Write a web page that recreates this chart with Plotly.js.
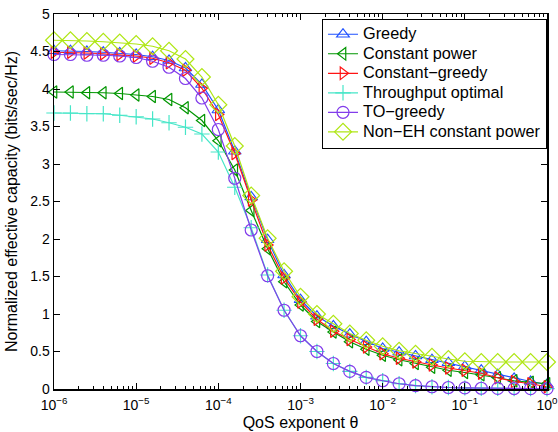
<!DOCTYPE html>
<html>
<head>
<meta charset="utf-8">
<script src="https://cdn.plot.ly/plotly-3.0.1.min.js"></script>
<style>html,body{margin:0;padding:0;background:#fff;}#chart{width:558px;height:432px;}</style>
</head>
<body>
<div id="chart"></div>
<script>
// QoS exponent theta: 31 points, 5 per decade from 1e-6 to 1e0
var logTheta = [-6,-5.8,-5.6,-5.4,-5.2,-5,-4.8,-4.6,-4.4,-4.2,-4,-3.8,-3.6,-3.4,-3.2,-3,-2.8,-2.6,-2.4,-2.2,-2,-1.8,-1.6,-1.4,-1.2,-1,-0.8,-0.6,-0.4,-0.2,0];
var theta = logTheta.map(function(v){ return Math.pow(10, v); });

var greedy = [4.51,4.51,4.50,4.49,4.48,4.46,4.43,4.38,4.28,4.06,3.72,3.17,2.56,1.99,1.52,1.19,0.97,0.84,0.73,0.63,0.54,0.49,0.44,0.39,0.35,0.30,0.25,0.19,0.14,0.10,0.06];
var constantPower = [3.96,3.96,3.95,3.95,3.94,3.92,3.90,3.86,3.75,3.58,3.31,2.92,2.38,1.87,1.43,1.12,0.90,0.76,0.63,0.53,0.45,0.39,0.34,0.29,0.25,0.22,0.19,0.15,0.11,0.09,0.07];
var constantGreedy = [4.49,4.49,4.48,4.47,4.46,4.44,4.41,4.35,4.25,4.01,3.66,3.14,2.52,1.92,1.48,1.16,0.93,0.77,0.66,0.56,0.47,0.41,0.36,0.32,0.28,0.25,0.21,0.15,0.10,0.07,0.03];
var throughputOptimal = [3.68,3.68,3.67,3.67,3.65,3.63,3.60,3.55,3.49,3.40,3.16,2.69,2.15,1.52,1.05,0.71,0.50,0.34,0.235,0.155,0.11,0.07,0.045,0.03,0.02,0.015,0.01,0.008,0.006,0.005,0.004];
var toGreedy = [4.46,4.46,4.45,4.45,4.44,4.42,4.37,4.29,4.14,3.88,3.46,2.81,2.12,1.51,1.05,0.71,0.50,0.34,0.235,0.155,0.11,0.07,0.045,0.03,0.02,0.015,0.01,0.008,0.006,0.005,0.004];
var nonEH = [4.65,4.65,4.64,4.63,4.62,4.60,4.57,4.51,4.40,4.16,3.79,3.24,2.58,2.01,1.57,1.23,1.00,0.87,0.74,0.65,0.57,0.51,0.47,0.43,0.40,0.37,0.36,0.36,0.36,0.36,0.36];

var seriesNames = ["Greedy","Constant power","Constant−greedy","Throughput optimal","TO−greedy","Non−EH constant power"];
var xTickVals = [1e-6,1e-5,1e-4,1e-3,1e-2,1e-1,1];
var xTickText = ["10<sup>−6</sup>","10<sup>−5</sup>","10<sup>−4</sup>","10<sup>−3</sup>","10<sup>−2</sup>","10<sup>−1</sup>","10<sup>0</sup>"];
var yTickVals = [0,0.5,1,1.5,2,2.5,3,3.5,4,4.5,5];
var yTickText = ["0","0.5","1","1.5","2","2.5","3","3.5","4","4.5","5"];

var styles = [
  {color:"rgb(30,80,255)", symbol:"triangle-up-open", size:11},
  {color:"rgb(0,150,0)", symbol:"triangle-left-open", size:11},
  {color:"rgb(255,20,20)", symbol:"triangle-right-open", size:11},
  {color:"rgb(70,230,200)", symbol:"cross-thin-open", size:11},
  {color:"rgb(130,60,235)", symbol:"circle-open", size:12},
  {color:"rgb(175,230,20)", symbol:"diamond-open", size:13}
];
var data = [greedy, constantPower, constantGreedy, throughputOptimal, toGreedy, nonEH];

var fam = "Liberation Sans, Arial, Helvetica, sans-serif";
var traces = data.map(function(y, i){
  return {
    x: theta, y: y, type: "scatter", mode: "lines+markers",
    name: '<span style="font-size:16.3px">' + seriesNames[i] + '</span>',
    line: {color: styles[i].color, width: 1.2},
    marker: {symbol: styles[i].symbol, size: styles[i].size, color: styles[i].color,
             line: {color: styles[i].color, width: 1.2}},
    cliponaxis: false, hoverinfo: "skip"
  };
});

var layout = {
  width: 558, height: 432,
  margin: {l: 54, r: 11, t: 14, b: 43},
  paper_bgcolor: "#fff", plot_bgcolor: "#fff",
  font: {family: fam, size: 14, color: "#000"},
  showlegend: true,
  legend: {x: 1, y: 0.988, xanchor: "right", yanchor: "top", bgcolor: "#fff",
           bordercolor: "#000", borderwidth: 1, font: {family: fam, size: 12.7, color: "#000"},
           tracegroupgap: 0},
  xaxis: {type: "log", range: [-6, 0], tickvals: xTickVals, ticktext: xTickText,
          ticks: "inside", ticklen: 6, tickcolor: "#000", mirror: "ticks",
          showline: true, linecolor: "#000", linewidth: 1.5, showgrid: false, zeroline: false,
          minor: {ticks: "inside", ticklen: 3, tickcolor: "#000", dtick: "D1", showgrid: false},
          tickfont: {family: fam, size: 14}, ticklabeloverflow: "allow", ticklabelstandoff: 3,
          title: {text: "QoS exponent θ", font: {family: fam, size: 16}, standoff: 4}},
  yaxis: {range: [0, 5], tickvals: yTickVals, ticktext: yTickText,
          ticks: "inside", ticklen: 6, tickcolor: "#000", mirror: "ticks",
          showline: true, linecolor: "#000", linewidth: 1.5, showgrid: false, zeroline: false,
          tickfont: {family: fam, size: 14},
          title: {text: "Normalized effective capacity (bits/sec/Hz)", font: {family: fam, size: 16}, standoff: 8}}
};

Plotly.newPlot("chart", traces, layout, {staticPlot: true, displayModeBar: false});
</script>
</body>
</html>
